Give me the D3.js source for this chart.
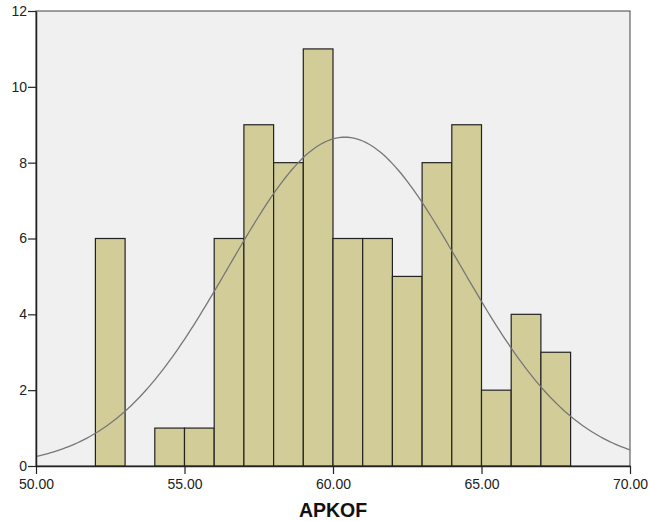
<!DOCTYPE html>
<html>
<head>
<meta charset="utf-8">
<script src="https://cdn.jsdelivr.net/npm/d3@7"></script>
<style>
  body { margin: 0; background: #fff; }
  text { font-family: Arial, "Liberation Sans", sans-serif; }
</style>
</head>
<body>
<svg id="chart"></svg>
<script>
// Histogram bins (left edge) and counts
const binStarts = [52, 53, 54, 55, 56, 57, 58, 59, 60, 61, 62, 63, 64, 65, 66, 67];
const counts    = [6, 0, 1, 1, 6, 9, 8, 11, 6, 6, 5, 8, 9, 2, 4, 3];
const binWidth = 1;

// Fitted normal curve parameters
const mean = 60.4;
const sd = 3.91;

const xTicks = [50, 55, 60, 65, 70];
const yTicks = [0, 2, 4, 6, 8, 10, 12];

const width = 649, height = 521;
const margin = { top: 11, right: 19, bottom: 55, left: 36 };

const svg = d3.select("#chart")
    .attr("width", width)
    .attr("height", height);

const x = d3.scaleLinear().domain([50, 70]).range([margin.left, width - margin.right]);
const y = d3.scaleLinear().domain([0, 12]).range([height - margin.bottom, margin.top]);

// Plot background
svg.append("rect")
    .attr("x", x(50)).attr("y", y(12))
    .attr("width", x(70) - x(50)).attr("height", y(0) - y(12))
    .attr("fill", "#f0f0f0")
    .attr("stroke", "#444").attr("stroke-width", 1);

// Bars
const total = d3.sum(counts);
svg.append("g")
    .selectAll("rect")
    .data(binStarts.map((b, i) => ({ b, c: counts[i] })).filter(d => d.c > 0))
    .enter().append("rect")
    .attr("x", d => x(d.b))
    .attr("y", d => y(d.c))
    .attr("width", d => x(d.b + binWidth) - x(d.b))
    .attr("height", d => y(0) - y(d.c))
    .attr("fill", "#d2cd98")
    .attr("stroke", "#222")
    .attr("stroke-width", 1.2);

// Normal curve
const curve = d3.range(50, 70.001, 0.1).map(v => ({
    v,
    f: total * binWidth / (sd * Math.sqrt(2 * Math.PI)) * Math.exp(-((v - mean) ** 2) / (2 * sd * sd))
}));
svg.append("path")
    .datum(curve)
    .attr("fill", "none")
    .attr("stroke", "#777")
    .attr("stroke-width", 1.3)
    .attr("d", d3.line().x(d => x(d.v)).y(d => y(d.f)));

// Axes
const xAxis = svg.append("g")
    .attr("transform", `translate(0,${y(0)})`)
    .call(d3.axisBottom(x).tickValues(xTicks).tickFormat(d3.format(".2f")).tickSize(8).tickSizeOuter(0));
const yAxis = svg.append("g")
    .attr("transform", `translate(${x(50)},0)`)
    .call(d3.axisLeft(y).tickValues(yTicks).tickSize(8).tickSizeOuter(0));

[xAxis, yAxis].forEach(a => {
    a.select(".domain").attr("stroke", "#222").attr("stroke-width", 1.5);
    a.selectAll(".tick line").attr("stroke", "#222").attr("stroke-width", 1.2);
    a.selectAll("text").attr("font-size", 14).attr("fill", "#222")
        .attr("font-family", "Arial, 'Liberation Sans', sans-serif");
});
xAxis.selectAll("text").attr("dy", "0.85em");
yAxis.selectAll("text").attr("dx", "0.15em");

// Axis title
svg.append("text")
    .attr("x", x(60))
    .attr("y", 517)
    .attr("text-anchor", "middle")
    .attr("font-size", 19.5)
    .attr("font-weight", "bold")
    .attr("fill", "#111")
    .text("APKOF");
</script>
</body>
</html>
